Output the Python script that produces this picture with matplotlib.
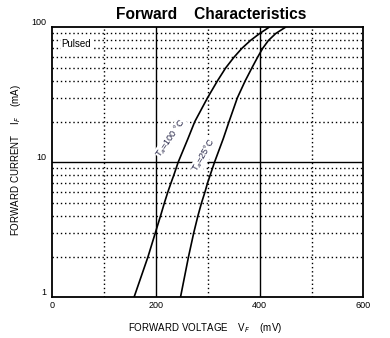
import numpy as np
import matplotlib
matplotlib.use("Agg")
import matplotlib.pyplot as plt
from matplotlib.ticker import FixedLocator, NullFormatter

plt.rcParams['font.family'] = ['Liberation Sans', 'DejaVu Sans']

# forward voltage (mV) vs forward current (mA), Ta = 100 C
vf_100 = [158, 185, 199, 209, 216.5, 223, 229, 234.5, 239, 243,
          262, 275, 299.5, 318.5, 334.5, 350.5, 366, 382.5, 400, 418]
if_100 = [1, 2, 3, 4, 5, 6, 7, 8, 9, 10,
          15, 20, 30, 40, 50, 60, 70, 80, 90, 100]

# Ta = 25 C
vf_25 = [247.5, 263, 273, 281, 288, 294.5, 299.5, 304.5, 309, 313,
         330, 341, 357, 372, 385, 396, 406, 417, 431, 449.5]
if_25 = [1, 2, 3, 4, 5, 6, 7, 8, 9, 10,
         15, 20, 30, 40, 50, 60, 70, 80, 90, 100]

x_ticks = [0, 200, 400, 600]
y_ticks = [1, 10, 100]

fig = plt.figure(figsize=(3.9, 3.38), dpi=100)
ax = fig.add_axes([0.1333, 0.1204, 0.7987, 0.7988])

ax.set_yscale('log')
ax.set_xlim(0, 600)
ax.set_ylim(1, 100)

# grid: solid majors, dotted minors
for x in [200, 400]:
    ax.axvline(x, color='black', lw=1.0, zorder=1)
for x in [100, 300, 500]:
    ax.axvline(x, color='black', lw=1.0, ls=(0, (1, 2)), zorder=1)
ax.axhline(10, color='black', lw=1.0, zorder=1)
for d in [1, 10]:
    for m in range(2, 10):
        ax.axhline(d * m, color='black', lw=1.0, ls=(0, (1, 2)), zorder=1)

ax.plot(vf_100, if_100, color='black', lw=1.2, zorder=3,
        solid_joinstyle='round')
ax.plot(vf_25, if_25, color='black', lw=1.2, zorder=3,
        solid_joinstyle='round')

ax.xaxis.set_major_locator(FixedLocator(x_ticks))
ax.yaxis.set_major_locator(FixedLocator(y_ticks))
ax.yaxis.set_minor_formatter(NullFormatter())
ax.set_yticklabels([str(v) for v in y_ticks])
ax.tick_params(which='both', length=0, labelsize=6.5, pad=3)
ax.tick_params(axis='y', pad=4)
for lbl in ax.get_yticklabels():
    lbl.set_verticalalignment('bottom')

for s in ax.spines.values():
    s.set_linewidth(1.3)

ax.text(0.03, 0.938, 'Pulsed', transform=ax.transAxes, fontsize=7,
        ha='left', va='center', zorder=4,
        bbox=dict(facecolor='white', edgecolor='none', pad=0.5))

ax.text(229, 15.1, 'T$_a$=100 °C', rotation=55, fontsize=6.5,
        ha='center', va='center', color='#222244', zorder=4,
        bbox=dict(facecolor='white', edgecolor='none', pad=0.2))
ax.text(293, 11.3, 'T$_a$=25°C', rotation=60, fontsize=6.5,
        ha='center', va='center', color='#222244', zorder=4,
        bbox=dict(facecolor='white', edgecolor='none', pad=0.2))

fig.text(0.541, 0.957, 'Forward    Characteristics', fontsize=11.2,
         fontweight='bold', ha='center', va='center')
ax.set_xlabel('FORWARD VOLTAGE    V$_F$    (mV)', fontsize=7)
ax.xaxis.set_label_coords(0.49, -0.087)
ax.set_ylabel('FORWARD CURRENT    I$_F$    (mA)', fontsize=7)
ax.yaxis.set_label_coords(-0.093, 0.508)

fig.savefig('out.png', dpi=100)
